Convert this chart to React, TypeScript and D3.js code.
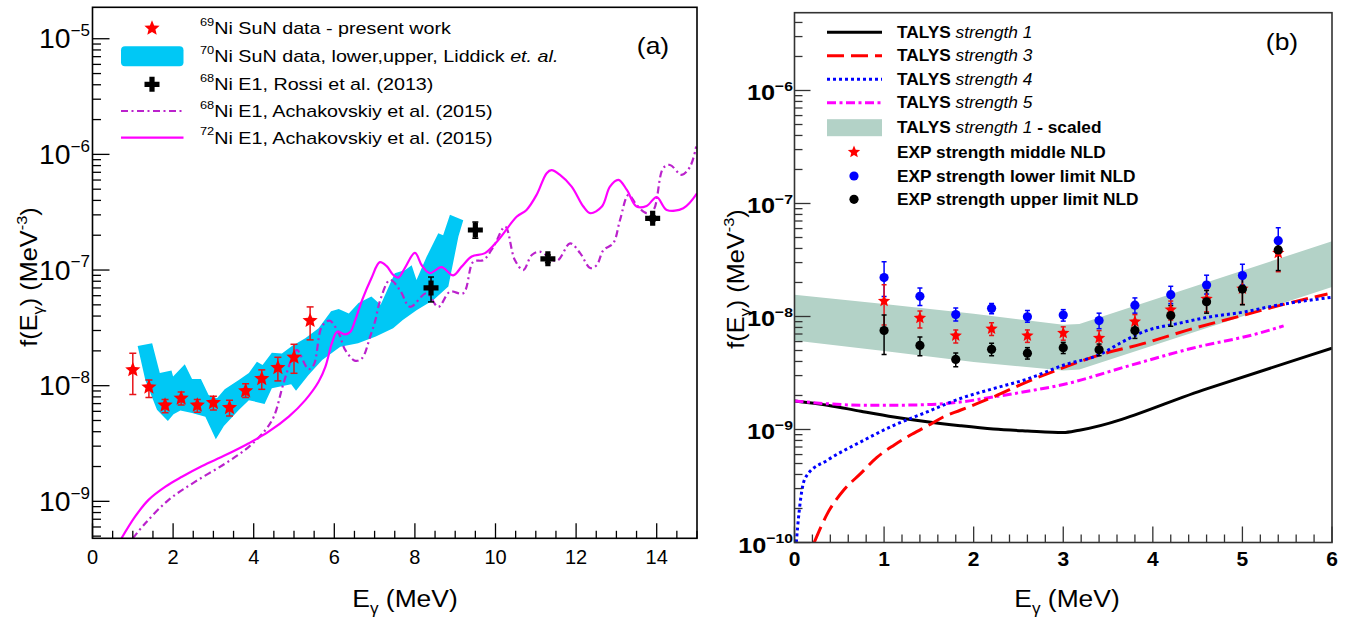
import React, { useEffect, useRef } from "react";
import * as d3 from "d3";

const FONT = "'Liberation Sans', Arial, Helvetica, sans-serif";

// ---------- panel (a) ----------
// 69Ni SuN data - present work (same points are the "middle NLD" stars of panel b)
const expE = [1.0, 1.4, 1.8, 2.2, 2.6, 3.0, 3.4, 3.8, 4.2, 4.6, 5.0, 5.4];
const midF = [1.37e-8, 9.7e-9, 6.77e-9, 7.78e-9, 6.77e-9, 7.13e-9, 6.45e-9, 9.0e-9, 1.15e-8, 1.43e-8, 1.76e-8, 3.65e-8];
const midLo = [8.4e-9, 7.9e-9, 5.84e-9, 6.8e-9, 5.9e-9, 6.17e-9, 5.47e-9, 7.9e-9, 9.3e-9, 1.1e-8, 1.28e-8, 2.49e-8];
const midHi = [1.91e-8, 1.12e-8, 7.6e-9, 8.8e-9, 7.6e-9, 8.1e-9, 7.5e-9, 1.04e-8, 1.37e-8, 1.76e-8, 2.28e-8, 4.8e-8];

// 70Ni SuN band (Liddick et al.), upper and lower edges
const ni70UpE = [1.12, 1.48, 1.67, 1.96, 2.0, 2.29, 2.47, 2.69, 2.88, 3.09, 3.28, 3.63, 3.88, 4.08, 4.22, 4.45, 4.7, 4.95, 5.28, 5.61, 5.92, 6.11, 6.36, 6.6, 6.92, 7.15, 7.5, 7.76, 7.92, 8.04, 8.29, 8.58, 8.7, 8.87, 9.2];
const ni70UpF = [2.2e-8, 2.33e-8, 1.29e-8, 1.35e-8, 1.2e-8, 1.53e-8, 1.14e-8, 1.14e-8, 8.3e-9, 7.8e-9, 9.3e-9, 1.12e-8, 1.29e-8, 1.61e-8, 1.51e-8, 1.93e-8, 1.9e-8, 2.2e-8, 2.57e-8, 3.14e-8, 4.4e-8, 4.6e-8, 4.2e-8, 5.2e-8, 5.9e-8, 5.0e-8, 9.4e-8, 1.0e-7, 1.1e-7, 8.2e-8, 1.3e-7, 2.08e-7, 2.0e-7, 3.0e-7, 2.7e-7];
const ni70LoE = [1.12, 1.31, 1.6, 1.87, 2.01, 2.18, 2.47, 2.8, 3.06, 3.26, 3.63, 3.88, 4.27, 4.45, 4.93, 5.05, 5.36, 5.7, 6.15, 6.59, 7.03, 7.46, 7.7, 8.04, 8.46, 8.83, 9.08, 9.2];
const ni70LoF = [2.2e-8, 1.12e-8, 6.2e-9, 4.95e-9, 5.65e-9, 6.1e-9, 5.8e-9, 5.4e-9, 3.44e-9, 4.48e-9, 6.16e-9, 7.5e-9, 6.95e-9, 9.5e-9, 1.03e-8, 9.05e-9, 1.24e-8, 1.67e-8, 2.17e-8, 2.33e-8, 2.66e-8, 3.14e-8, 3.7e-8, 4.5e-8, 5.5e-8, 7.2e-8, 1.95e-7, 2.7e-7];

// 68Ni E1, Rossi et al. (2013)
const rossiE = [8.4, 9.5, 11.3, 13.9];
const rossiF = [7.0e-8, 2.22e-7, 1.25e-7, 2.8e-7];
const rossiLo = [5.3e-8, 1.88e-7, 1.16e-7, 2.65e-7];
const rossiHi = [8.7e-8, 2.6e-7, 1.35e-7, 2.95e-7];

// 68Ni E1, Achakovskiy et al. (2015)
const ni68E = [1.0, 1.31, 1.89, 2.55, 3.3, 3.88, 4.29, 4.5, 4.74, 4.95, 5.07, 5.36, 5.49, 5.69, 5.88, 6.11, 6.27, 6.52, 6.69, 6.89, 7.02, 7.14, 7.38, 7.63, 7.88, 8.29, 8.58, 8.87, 9.2, 9.45, 9.7, 9.95, 10.24, 10.48, 10.69, 10.9, 11.1, 11.52, 11.85, 12.1, 12.35, 12.51, 12.68, 12.92, 13.09, 13.3, 13.5, 13.75, 13.92, 14.16, 14.33, 14.62, 14.83, 14.98];
const ni68F = [4.79e-10, 6.46e-10, 1.03e-9, 1.48e-9, 2.13e-9, 2.96e-9, 4.14e-9, 5.4e-9, 1.05e-8, 1.73e-8, 2.04e-8, 1.39e-8, 1.51e-8, 3.24e-8, 3.65e-8, 2.84e-8, 2.04e-8, 1.64e-8, 1.73e-8, 2.66e-8, 3.7e-8, 5.5e-8, 8.2e-8, 6.7e-8, 4.8e-8, 6.3e-8, 4.8e-8, 6.5e-8, 6.3e-8, 1.18e-7, 1.22e-7, 1.59e-7, 2.37e-7, 1.22e-7, 1.0e-7, 1.35e-7, 1.44e-7, 1.2e-7, 1.7e-7, 1.4e-7, 1.04e-7, 1.1e-7, 1.49e-7, 1.7e-7, 2.71e-7, 4.47e-7, 3.66e-7, 3.1e-7, 3.31e-7, 7.6e-7, 8.1e-7, 6.65e-7, 7.85e-7, 1.17e-6];

// 72Ni E1, Achakovskiy et al. (2015)
const ni72E = [0.72, 1.06, 1.39, 1.81, 2.22, 2.72, 3.3, 3.88, 4.37, 4.87, 5.28, 5.61, 5.78, 5.94, 6.07, 6.27, 6.4, 6.52, 6.69, 6.92, 7.13, 7.3, 7.46, 7.59, 7.75, 8.0, 8.17, 8.37, 8.66, 8.95, 9.16, 9.41, 9.74, 10.07, 10.53, 10.77, 11.02, 11.27, 11.39, 11.6, 11.89, 12.18, 12.35, 12.64, 12.84, 13.05, 13.26, 13.5, 13.75, 14.0, 14.25, 14.66, 15.0];
const ni72F = [4.79e-10, 7.4e-10, 1.03e-9, 1.34e-9, 1.63e-9, 2.02e-9, 2.51e-9, 3.18e-9, 4.0e-9, 5.4e-9, 7.5e-9, 1.08e-8, 1.46e-8, 2.33e-8, 2.93e-8, 2.78e-8, 2.93e-8, 3.7e-8, 5.5e-8, 8.5e-8, 1.17e-7, 1.08e-7, 9.1e-8, 8.6e-8, 1.04e-7, 1.41e-7, 1.1e-7, 9.4e-8, 1.06e-7, 9.0e-8, 1.07e-7, 1.31e-7, 1.4e-7, 1.82e-7, 2.9e-7, 3.31e-7, 4.47e-7, 6.88e-7, 7.3e-7, 6.65e-7, 5.27e-7, 3.54e-7, 3.1e-7, 3.54e-7, 5.27e-7, 6.03e-7, 4.93e-7, 3.54e-7, 3.58e-7, 4.27e-7, 3.31e-7, 3.42e-7, 4.6e-7];

// ---------- panel (b) ----------
const s1E = [0, 0.37, 0.74, 1.11, 1.48, 1.85, 2.22, 2.6, 3.0, 3.18, 4.6, 6.0];
const s1F = [1.79e-9, 1.64e-9, 1.45e-9, 1.29e-9, 1.17e-9, 1.08e-9, 1.01e-9, 9.7e-10, 9.4e-10, 9.86e-10, 2.29e-9, 5.25e-9];
const s3E = [0.22, 0.37, 0.55, 0.74, 0.92, 1.11, 1.29, 1.48, 1.66, 1.85, 2.22, 2.59, 2.97, 3.39, 3.89, 4.44, 5.0, 5.56, 5.95];
const s3F = [1e-10, 1.82e-10, 2.91e-10, 4.09e-10, 5.66e-10, 7.26e-10, 8.9e-10, 1.07e-9, 1.29e-9, 1.48e-9, 1.94e-9, 2.63e-9, 3.45e-9, 4.53e-9, 5.75e-9, 7.79e-9, 1.02e-8, 1.34e-8, 1.58e-8];
const s4E = [0.02, 0.05, 0.09, 0.14, 0.37, 0.74, 1.11, 1.48, 1.85, 2.22, 2.6, 3.0, 3.43, 3.65, 3.93, 4.26, 4.63, 5.0, 5.37, 6.0];
const s4F = [1e-10, 1.82e-10, 3.12e-10, 3.95e-10, 5.36e-10, 7.78e-10, 1.09e-9, 1.43e-9, 1.88e-9, 2.3e-9, 2.8e-9, 3.7e-9, 4.7e-9, 5.9e-9, 7.5e-9, 8.6e-9, 9.9e-9, 1.09e-8, 1.25e-8, 1.48e-8];
const s5E = [0, 0.37, 0.74, 1.11, 1.48, 1.85, 2.22, 2.6, 3.0, 3.7, 4.44, 5.18, 5.46];
const s5F = [1.79e-9, 1.69e-9, 1.64e-9, 1.64e-9, 1.66e-9, 1.75e-9, 1.94e-9, 2.18e-9, 2.5e-9, 3.6e-9, 5.24e-9, 7.1e-9, 8.26e-9];
// TALYS strength 1 - scaled (band)
const bandE = [0, 1.0, 2.0, 3.0, 3.18, 6.0];
const bandLo = [6.14e-9, 4.94e-9, 3.95e-9, 3.33e-9, 3.4e-9, 1.82e-8];
const bandHi = [1.56e-8, 1.29e-8, 1.06e-8, 8.45e-9, 8.6e-9, 4.63e-8];
// EXP strength lower limit NLD (blue) / upper limit NLD (black)
const lowF = [2.21e-8, 1.51e-8, 1.04e-8, 1.18e-8, 9.94e-9, 1.03e-8, 9.2e-9, 1.26e-8, 1.56e-8, 1.9e-8, 2.3e-8, 4.69e-8];
const lowLo = [1.5e-8, 1.25e-8, 9.1e-9, 1.06e-8, 8.9e-9, 9.1e-9, 7.8e-9, 1.07e-8, 1.3e-8, 1.58e-8, 1.9e-8, 3.8e-8];
const lowHi = [3.05e-8, 1.79e-8, 1.19e-8, 1.3e-8, 1.13e-8, 1.15e-8, 1.07e-8, 1.46e-8, 1.85e-8, 2.32e-8, 2.9e-8, 6.1e-8];
const uppF = [7.52e-9, 5.55e-9, 4.17e-9, 5.12e-9, 4.74e-9, 5.3e-9, 5.08e-9, 7.5e-9, 1.02e-8, 1.35e-8, 1.75e-8, 3.88e-8];
const uppLo = [4.62e-9, 4.5e-9, 3.6e-9, 4.5e-9, 4.2e-9, 4.7e-9, 4.5e-9, 6.4e-9, 8.2e-9, 1.07e-8, 1.27e-8, 2.55e-8];
const uppHi = [1.03e-8, 6.6e-9, 4.75e-9, 5.8e-9, 5.3e-9, 5.9e-9, 5.7e-9, 8.8e-9, 1.25e-8, 1.7e-8, 2.2e-8, 4.85e-8];

const legendA = [
  ["69", "Ni SuN data - present work"],
  ["70", "Ni SuN data, lower,upper, Liddick "],
  ["68", "Ni E1, Rossi et al. (2013)"],
  ["68", "Ni E1, Achakovskiy et al. (2015)"],
  ["72", "Ni E1, Achakovskiy et al. (2015)"],
];
const legendB = ["1", "3", "4", "5", "1"];
const legendExp = ["EXP strength middle NLD", "EXP strength lower limit NLD", "EXP strength upper limit NLD"];

const PA = { left: 92.5, right: 697, top: 7.3, bottom: 538.3 };
const PB = { left: 794.5, right: 1332, top: 12.7, bottom: 542.5 };

const CYAN = "#00c8f5";
const PURPLE = "#bb22cc";
const GREEN = "#b3d2c7";

function starPath(r) {
  const pts = [];
  for (let i = 0; i < 10; i++) {
    const rr = i % 2 === 0 ? r : r * 0.45;
    const a = -Math.PI / 2 + (i * Math.PI) / 5;
    pts.push([rr * Math.cos(a), rr * Math.sin(a)]);
  }
  return "M" + pts.map((p) => p[0].toFixed(2) + "," + p[1].toFixed(2)).join("L") + "Z";
}
function plusPath(l, w) {
  return `M${-w},${-l}H${w}V${-w}H${l}V${w}H${w}V${l}H${-w}V${w}H${-l}V${-w}H${-w}Z`;
}

// text with sup/sub/italic parts, optional horizontal stretch
function txt(g, x, y, parts, o) {
  const size = o.size;
  const sx = o.sx ?? 1;
  const t = g
    .append("text")
    .attr("transform", `translate(${x},${y})${o.rot ? ` rotate(${o.rot})` : ""} scale(${sx},1)`)
    .attr("text-anchor", o.anchor ?? "start")
    .attr("font-family", FONT)
    .attr("font-size", size)
    .attr("font-weight", o.bold ? "bold" : "normal")
    .attr("fill", "#000");
  let shift = 0;
  parts.forEach((p) => {
    const s = typeof p === "string" ? { t: p } : p;
    const ts = t.append("tspan").text(s.t);
    let target = 0;
    if (s.sup) target = -size * (o.supRaise ?? 0.42);
    if (s.sub) target = size * 0.28;
    if (target - shift !== 0) ts.attr("dy", target - shift);
    shift = target;
    if (s.sup || s.sub) ts.attr("font-size", size * (o.supSize ?? 0.65));
    if (s.it) ts.attr("font-style", "italic");
    if (s.b !== undefined) ts.attr("font-weight", s.b ? "bold" : "normal");
  });
  return t;
}

function drawAxes(g, x, y, box, o) {
  const ax = g.append("g").attr("stroke", o.color).attr("stroke-width", o.tw);
  const [xa, xb] = x.domain();
  d3.range(xa, xb + 1e-9, o.xMinor).forEach((v) => {
    const maj = Math.abs(v / o.xMajor - Math.round(v / o.xMajor)) < 1e-6;
    const len = maj ? o.xMajLen : o.xMajLen / 2;
    ax.append("line").attr("x1", x(v)).attr("x2", x(v)).attr("y1", box.bottom).attr("y2", box.bottom - len);
  });
  const [ya, yb] = y.domain();
  for (let d = Math.floor(Math.log10(ya)); d <= Math.ceil(Math.log10(yb)); d++) {
    for (let k = 1; k <= 9; k++) {
      const v = k * Math.pow(10, d);
      if (v < ya * 0.999 || v > yb) continue;
      const len = k === 1 ? o.yMajLen : o.yMajLen / 2;
      ax.append("line").attr("x1", box.left).attr("x2", box.left + len).attr("y1", y(v)).attr("y2", y(v));
    }
  }
  g.append("rect")
    .attr("x", box.left).attr("y", box.top)
    .attr("width", box.right - box.left).attr("height", box.bottom - box.top)
    .attr("fill", "none").attr("stroke", o.color).attr("stroke-width", o.fw);
}

function errBars(g, x, y, E, lo, hi, color, cap) {
  E.forEach((e, i) => {
    const px = x(e);
    g.append("line").attr("x1", px).attr("x2", px).attr("y1", y(lo[i])).attr("y2", y(hi[i]))
      .attr("stroke", color).attr("stroke-width", 1.5);
    [lo[i], hi[i]].forEach((v) => {
      g.append("line").attr("x1", px - cap).attr("x2", px + cap).attr("y1", y(v)).attr("y2", y(v))
        .attr("stroke", color).attr("stroke-width", 1.5);
    });
  });
}

function drawChart(svgEl) {
  const svg = d3.select(svgEl);
  svg.selectAll("*").remove();
  const defs = svg.append("defs");
  [["clipA", PA], ["clipB", PB]].forEach(([id, b]) => {
    defs.append("clipPath").attr("id", id).append("rect")
      .attr("x", b.left).attr("y", b.top).attr("width", b.right - b.left).attr("height", b.bottom - b.top);
  });

  // ================= panel (a) =================
  const xA = d3.scaleLinear().domain([0, 15]).range([PA.left, PA.right]);
  const yA = d3.scaleLog().domain([4.79e-10, 1.87e-5]).range([PA.bottom, PA.top]);
  const gA = svg.append("g");
  const plotA = gA.append("g").attr("clip-path", "url(#clipA)");

  // band
  const bandPts = ni70UpE.map((e, i) => [xA(e), yA(ni70UpF[i])])
    .concat(ni70LoE.map((e, i) => [xA(e), yA(ni70LoF[i])]).reverse());
  plotA.append("path").attr("d", d3.line().curve(d3.curveLinearClosed)(bandPts)).attr("fill", CYAN);

  const smooth = d3.line().curve(d3.curveCatmullRom.alpha(0.5));
  plotA.append("path")
    .attr("d", smooth(ni68E.map((e, i) => [xA(e), yA(ni68F[i])])))
    .attr("fill", "none").attr("stroke", PURPLE).attr("stroke-width", 2.2)
    .attr("stroke-dasharray", "7,3.5,2,3.5");
  plotA.append("path")
    .attr("d", smooth(ni72E.map((e, i) => [xA(e), yA(ni72F[i])])))
    .attr("fill", "none").attr("stroke", "#ff00ff").attr("stroke-width", 2.2);

  errBars(plotA, xA, yA, expE, midLo, midHi, "#e8141a", 3.5);
  expE.forEach((e, i) => {
    plotA.append("path").attr("d", starPath(8)).attr("transform", `translate(${xA(e)},${yA(midF[i])})`).attr("fill", "#ff0000");
  });
  errBars(plotA, xA, yA, rossiE, rossiLo, rossiHi, "#000", 3);
  rossiE.forEach((e, i) => {
    plotA.append("path").attr("d", plusPath(7.5, 2.6)).attr("transform", `translate(${xA(e)},${yA(rossiF[i])})`).attr("fill", "#000");
  });

  drawAxes(gA, xA, yA, PA, { color: "#000", tw: 1.3, fw: 1.6, xMinor: 0.5, xMajor: 2, xMajLen: 15, yMajLen: 17 });
  d3.range(0, 15, 2).forEach((v) => {
    txt(gA, xA(v), 563.5, [String(v)], { size: 20, anchor: "middle", sx: 1.0 });
  });
  [-9, -8, -7, -6, -5].forEach((d) => {
    txt(gA, 90, yA(Math.pow(10, d)) + 9.5, ["10", { t: "\u2212" + Math.abs(d), sup: true }], { size: 27, anchor: "end", sx: 1.05, supRaise: 0.45, supSize: 0.6 });
  });
  txt(gA, 37, 277, ["f(E", { t: "\u03b3", sub: true }, ")  (MeV", { t: "-3", sup: true }, ")"], { size: 23, anchor: "middle", rot: -90, sx: 1.1 });
  txt(gA, 405, 607, ["E", { t: "\u03b3", sub: true }, " (MeV)"], { size: 24, anchor: "middle", sx: 1.1 });
  txt(gA, 653, 54, ["(a)"], { size: 23, anchor: "middle", sx: 1.15 });

  // legend (a)
  const rowsA = [28.3, 56.3, 84.3, 111, 137.7];
  const lg = gA.append("g");
  lg.append("path").attr("d", starPath(8)).attr("transform", `translate(152,${rowsA[0]})`).attr("fill", "#ff0000");
  lg.append("rect").attr("x", 121).attr("y", rowsA[1] - 10).attr("width", 62.5).attr("height", 20).attr("rx", 4).attr("fill", CYAN);
  lg.append("path").attr("d", plusPath(7.5, 2.6)).attr("transform", `translate(152,${rowsA[2]})`).attr("fill", "#000");
  lg.append("line").attr("x1", 121).attr("x2", 183.5).attr("y1", rowsA[3]).attr("y2", rowsA[3])
    .attr("stroke", PURPLE).attr("stroke-width", 2.2).attr("stroke-dasharray", "7,3.5,2,3.5");
  lg.append("line").attr("x1", 121).attr("x2", 183.5).attr("y1", rowsA[4]).attr("y2", rowsA[4])
    .attr("stroke", "#ff00ff").attr("stroke-width", 2.2);
  legendA.forEach(([iso, label], i) => {
    const parts = [{ t: iso, sup: true }, label];
    if (i === 1) parts.push({ t: "et. al.", it: true });
    txt(lg, 200, rowsA[i] + 6, parts, { size: 17, sx: 1.16, supRaise: 0.5, supSize: 0.65 });
  });

  // ================= panel (b) =================
  const xB = d3.scaleLinear().domain([0, 6]).range([PB.left, PB.right]);
  const yB = d3.scaleLog().domain([1e-10, 4.88e-6]).range([PB.bottom, PB.top]);
  const gB = svg.append("g");
  const plotB = gB.append("g").attr("clip-path", "url(#clipB)");

  plotB.append("path")
    .attr("d", d3.area().x((d, i) => xB(bandE[i])).y0((d, i) => yB(bandLo[i])).y1((d, i) => yB(bandHi[i]))(bandE))
    .attr("fill", GREEN);

  const lineB = d3.line().curve(d3.curveMonotoneX);
  const curve = (E, F, color, dash) => {
    plotB.append("path").attr("d", lineB(E.map((e, i) => [xB(e), yB(F[i])])))
      .attr("fill", "none").attr("stroke", color).attr("stroke-width", 3)
      .attr("stroke-dasharray", dash);
  };
  curve(s1E, s1F, "#000", null);
  curve(s5E, s5F, "#ff00ff", "9,3.5,3,3.5");
  curve(s3E, s3F, "#ff0000", "17,7");
  curve(s4E, s4F, "#0000ff", "3,3");

  errBars(plotB, xB, yB, expE, lowLo, lowHi, "#0000ff", 2.5);
  errBars(plotB, xB, yB, expE, midLo, midHi, "#e8141a", 2.5);
  errBars(plotB, xB, yB, expE, uppLo, uppHi, "#000", 2.5);
  expE.forEach((e, i) => {
    plotB.append("circle").attr("cx", xB(e)).attr("cy", yB(lowF[i])).attr("r", 4.6).attr("fill", "#0000ff");
  });
  expE.forEach((e, i) => {
    plotB.append("path").attr("d", starPath(6.5)).attr("transform", `translate(${xB(e)},${yB(midF[i])})`).attr("fill", "#ff0000");
  });
  expE.forEach((e, i) => {
    plotB.append("circle").attr("cx", xB(e)).attr("cy", yB(uppF[i])).attr("r", 4.6).attr("fill", "#000");
  });

  drawAxes(gB, xB, yB, PB, { color: "#333", tw: 1.3, fw: 1.6, xMinor: 0.2, xMajor: 1, xMajLen: 16, yMajLen: 16 });
  d3.range(0, 7, 1).forEach((v) => {
    txt(gB, xB(v), 566, [String(v)], { size: 20, anchor: "middle", bold: true, sx: 1.05 });
  });
  [-10, -9, -8, -7, -6].forEach((d) => {
    txt(gB, 793, yB(Math.pow(10, d)) + 10, ["10", { t: "\u2212" + Math.abs(d), sup: true }], { size: 22, anchor: "end", bold: true, sx: 1.15, supRaise: 0.45, supSize: 0.62 });
  });
  txt(gB, 744, 279, ["f(E", { t: "\u03b3", sub: true }, ")  (MeV", { t: "-3", sup: true }, ")"], { size: 23, anchor: "middle", rot: -90, sx: 1.1 });
  txt(gB, 1067, 607, ["E", { t: "\u03b3", sub: true }, " (MeV)"], { size: 24, anchor: "middle", sx: 1.1 });
  txt(gB, 1282, 50, ["(b)"], { size: 23, anchor: "middle", sx: 1.15 });

  // legend (b)
  const rowsB = [32.3, 55.7, 79.3, 102.7, 127.7, 152, 176, 199.3];
  const lb = gB.append("g");
  const legLine = (row, color, dash) => {
    lb.append("line").attr("x1", 827).attr("x2", 882).attr("y1", row).attr("y2", row)
      .attr("stroke", color).attr("stroke-width", 3).attr("stroke-dasharray", dash);
  };
  legLine(rowsB[0], "#000", null);
  legLine(rowsB[1], "#ff0000", "17,7");
  legLine(rowsB[2], "#0000ff", "3,3");
  legLine(rowsB[3], "#ff00ff", "9,3.5,3,3.5");
  lb.append("rect").attr("x", 827).attr("y", rowsB[4] - 8.5).attr("width", 55).attr("height", 17).attr("fill", GREEN);
  lb.append("path").attr("d", starPath(6.5)).attr("transform", `translate(854,${rowsB[5]})`).attr("fill", "#ff0000");
  lb.append("circle").attr("cx", 854).attr("cy", rowsB[6]).attr("r", 4.6).attr("fill", "#0000ff");
  lb.append("circle").attr("cx", 854).attr("cy", rowsB[7]).attr("r", 4.6).attr("fill", "#000");
  legendB.forEach((s, i) => {
    const parts = [{ t: "TALYS ", b: true }, { t: "strength " + s, it: true, b: false }];
    if (i === 4) parts.push({ t: " - scaled", b: true });
    txt(lb, 897, rowsB[i] + 5.5, parts, { size: 16, sx: 1.08 });
  });
  legendExp.forEach((s, i) => {
    txt(lb, 897, rowsB[5 + i] + 5.5, [s], { size: 16, bold: true, sx: 1.08 });
  });
}

export default function App() {
  const ref = useRef(null);
  useEffect(() => {
    drawChart(ref.current);
  }, []);
  return (
    <svg
      ref={ref}
      width={1352}
      height={621}
      style={{ position: "absolute", left: 0, top: 0, background: "#fff" }}
    />
  );
}
